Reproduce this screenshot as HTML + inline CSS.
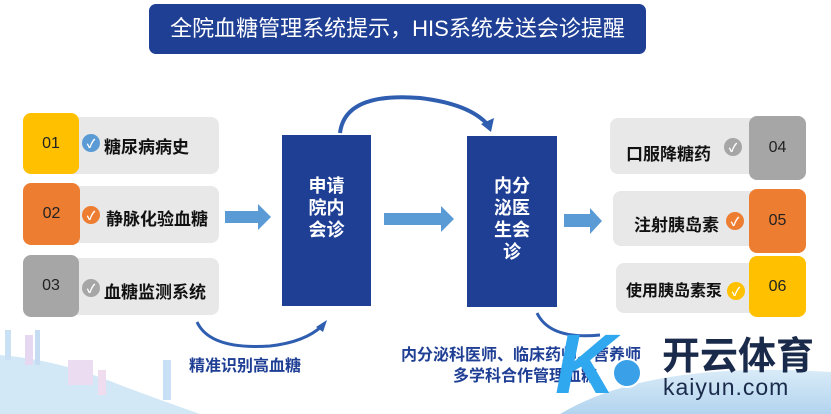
<!DOCTYPE html>
<html><head><meta charset="utf-8"><style>
body{margin:0;width:831px;height:414px;overflow:hidden;background:#fff;position:relative;font-family:"Liberation Sans","Noto Sans CJK SC",sans-serif}
.a{position:absolute}
.g{position:absolute;background:#e8e8e8;border-radius:8px}
.n{position:absolute;border-radius:8px;display:flex;align-items:center;justify-content:center;font-size:16px;color:#222}
.t{position:absolute;font-weight:bold;font-size:17px;color:#111;white-space:nowrap}
.c{position:absolute;width:18px;height:18px;border-radius:50%;color:#fff;font-size:12px;font-weight:bold;display:flex;align-items:center;justify-content:center}
.b{position:absolute;background:#1f3f95;color:#fff;font-weight:bold;font-size:18px;line-height:22px;text-align:center}
</style></head><body>
<svg class="a" style="left:0;top:0" width="831" height="414">
<defs><linearGradient id="sea" x1="0" y1="0" x2="0" y2="1"><stop offset="0" stop-color="#cfe6f6"/><stop offset="1" stop-color="#9fc9ea"/></linearGradient></defs>
<path d="M0 355 Q60 360 120 385 Q160 400 200 414 L0 414Z" fill="#d3e8f6"/>
<rect x="5" y="330" width="6" height="30" fill="#c9e0f5"/><rect x="25" y="335" width="8" height="30" fill="#e6d8f0"/><rect x="35" y="330" width="5" height="35" fill="#c6dcf3"/><rect x="68" y="360" width="25" height="25" fill="#ecdcf2"/><rect x="98" y="370" width="8" height="25" fill="#f0dcef"/><rect x="163" y="360" width="8" height="40" fill="#c7e0f6"/>
<path d="M560 414 Q650 360 831 372 L831 414Z" fill="url(#sea)" opacity=".8"/>
<path d="M340 133 Q345 92 420 98 Q470 104 488 125" fill="none" stroke="#2f5eb0" stroke-width="4"/>
<polygon points="481,124 494,118 491,132" fill="#2f5eb0"/>
<path d="M197 322 Q210 350 270 346 Q305 342 322 326" fill="none" stroke="#2f5eb0" stroke-width="3"/>
<polygon points="316,327 327,320 323,332" fill="#2f5eb0"/>
<path d="M537 313 Q550 340 600 335" fill="none" stroke="#2f5eb0" stroke-width="3"/>
<polygon points="225,211 258,211 258,204 271,217 258,230 258,223 225,223" fill="#5b9bd5"/>
<polygon points="384,213 441,213 441,206 454,219 441,232 441,225 384,225" fill="#5b9bd5"/>
<polygon points="564,214 590,214 590,208 602,221 590,234 590,227 564,227" fill="#5b9bd5"/>
</svg>
<div class="a" style="left:149px;top:4px;width:497px;height:50px;background:#1f3f95;border-radius:7px;color:#fff;font-size:22px;line-height:50px;text-align:center">全院血糖管理系统提示，HIS系统发送会诊提醒</div>

<div class="g" style="left:23px;top:117px;width:196px;height:57px"></div>
<div class="n" style="left:23px;top:113px;width:56px;height:61px;background:#ffc000">01</div>
<div class="c" style="left:82px;top:134px;background:#5b9bd5">✓</div>
<div class="t" style="left:104px;top:133px">糖尿病病史</div>

<div class="g" style="left:23px;top:186px;width:196px;height:57px"></div>
<div class="n" style="left:23px;top:183px;width:57px;height:62px;background:#ed7d31">02</div>
<div class="c" style="left:82px;top:206px;background:#ed7d31">✓</div>
<div class="t" style="left:106px;top:205px">静脉化验血糖</div>

<div class="g" style="left:23px;top:258px;width:196px;height:57px"></div>
<div class="n" style="left:23px;top:255px;width:56px;height:62px;background:#a6a6a6">03</div>
<div class="c" style="left:82px;top:279px;background:#a6a6a6">✓</div>
<div class="t" style="left:104px;top:278px">血糖监测系统</div>

<div class="b" style="left:282px;top:135px;width:89px;height:171px"><div style="margin-top:40px">申请<br>院内<br>会诊</div></div>
<div class="b" style="left:467px;top:136px;width:90px;height:171px"><div style="margin-top:39px">内分<br>泌医<br>生会<br>诊</div></div>

<div class="g" style="left:610px;top:118px;width:196px;height:56px"></div>
<div class="n" style="left:749px;top:116px;width:57px;height:64px;background:#a6a6a6">04</div>
<div class="c" style="left:724px;top:138px;background:#a6a6a6">✓</div>
<div class="t" style="left:626px;top:140px">口服降糖药</div>

<div class="g" style="left:613px;top:191px;width:193px;height:55px"></div>
<div class="n" style="left:749px;top:189px;width:57px;height:64px;background:#ed7d31">05</div>
<div class="c" style="left:726px;top:212px;background:#ed7d31">✓</div>
<div class="t" style="left:634px;top:211px">注射胰岛素</div>

<div class="g" style="left:616px;top:263px;width:190px;height:50px"></div>
<div class="n" style="left:749px;top:256px;width:57px;height:61px;background:#ffc000">06</div>
<div class="c" style="left:727px;top:282px;background:#ffc000">✓</div>
<div class="t" style="left:626px;top:277px;font-size:16px">使用胰岛素泵</div>

<div class="t" style="left:189px;top:352px;color:#1f3f95;font-size:16px">精准识别高血糖</div>
<div class="t" style="left:401px;top:341px;color:#1f3f95;font-size:16px">内分泌科医师、临床药师、营养师</div>
<div class="t" style="left:453px;top:362px;color:#1f3f95;font-size:16px">多学科合作管理血糖</div>

<div class="a" style="left:555px;top:318px;width:80px;height:92px;font-size:84px;font-weight:bold;font-style:italic;color:#2fa8f0;line-height:92px">K</div>
<div class="a" style="left:612px;top:358px;width:26px;height:26px;border-radius:50%;background:#3aa0e8;border:2px solid #fff"></div>
<div class="t" style="left:662px;top:325px;font-size:38px;color:#1a2a4a">开云体育</div>
<div class="a" style="left:663px;top:374px;font-size:23px;color:#1a2a4a;letter-spacing:1px">kaiyun.com</div>
</body></html>
